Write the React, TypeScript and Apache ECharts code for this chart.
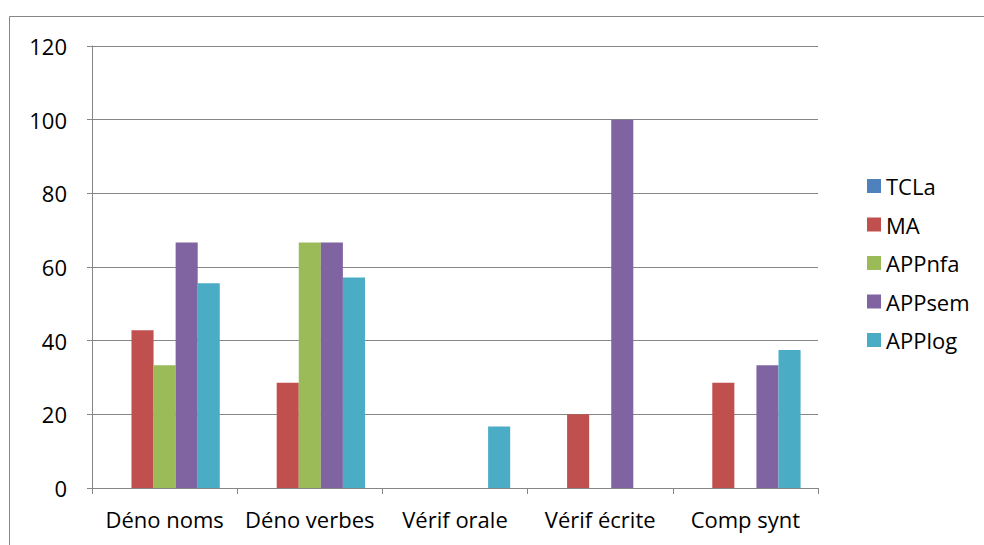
import React, { useEffect, useRef } from "react";
import * as echarts from "echarts";

const categories = ["Déno noms", "Déno verbes", "Vérif orale", "Vérif écrite", "Comp synt"];
const seriesNames = ["TCLa", "MA", "APPnfa", "APPsem", "APPlog"];
const TCLa = [0, 0, 0, 0, 0];
const MA = [42.86, 28.57, 0, 20, 28.57];
const APPnfa = [33.33, 66.67, 0, 0, 0];
const APPsem = [66.67, 66.67, 0, 100, 33.33];
const APPlog = [55.56, 57.14, 16.67, 0, 37.5];
const colors = ["#4F81BD", "#C0504D", "#9BBB59", "#8064A2", "#4BACC6"];
const yTicks = { min: 0, max: 120, interval: 20 };

export default function App() {
  const ref = useRef<HTMLDivElement>(null);
  useEffect(() => {
    if (!ref.current) return;
    const chart = echarts.init(ref.current, null, { renderer: "svg" });
    const values = [TCLa, MA, APPnfa, APPsem, APPlog];
    const font = "'Open Sans', 'Noto Sans', sans-serif";
    chart.setOption({
      animation: false,
      backgroundColor: "#ffffff",
      textStyle: { fontFamily: font },
      graphic: [
        {
          type: "rect",
          shape: { x: 9.5, y: 16.5, width: 1000, height: 600 },
          style: { fill: "none", stroke: "#868686", lineWidth: 1 },
          silent: true,
        },
      ],
      grid: { left: 92, right: 166, top: 46, bottom: 57, containLabel: false },
      legend: {
        orient: "vertical",
        left: 862,
        top: 169,
        itemWidth: 14,
        itemHeight: 14,
        itemGap: 14.5,
        icon: "rect",
        data: seriesNames,
        textStyle: { fontSize: 22, lineHeight: 24, color: "#000", fontFamily: font },
      },
      xAxis: {
        type: "category",
        data: categories,
        axisLine: { lineStyle: { color: "#868686", width: 1 } },
        axisTick: { show: true, length: 6, alignWithLabel: false, lineStyle: { color: "#868686" } },
        axisLabel: { fontSize: 22, color: "#000", margin: 20, fontFamily: font, interval: 0 },
      },
      yAxis: {
        type: "value",
        min: yTicks.min,
        max: yTicks.max,
        interval: yTicks.interval,
        axisLine: { show: true, lineStyle: { color: "#868686", width: 1 } },
        axisTick: { show: true, length: 5, lineStyle: { color: "#868686" } },
        axisLabel: { fontSize: 22, color: "#000", margin: 25, fontFamily: font },
        splitLine: { show: true, lineStyle: { color: "#868686", width: 1 } },
      },
      series: seriesNames.map((name, i) => ({
        name,
        type: "bar",
        data: values[i],
        barGap: "0%",
        barCategoryGap: "24%",
        itemStyle: { color: colors[i] },
      })),
    });
    return () => chart.dispose();
  }, []);
  return (
    <div
      ref={ref}
      style={{ position: "fixed", left: 0, top: 0, width: 984, height: 545 }}
    />
  );
}
